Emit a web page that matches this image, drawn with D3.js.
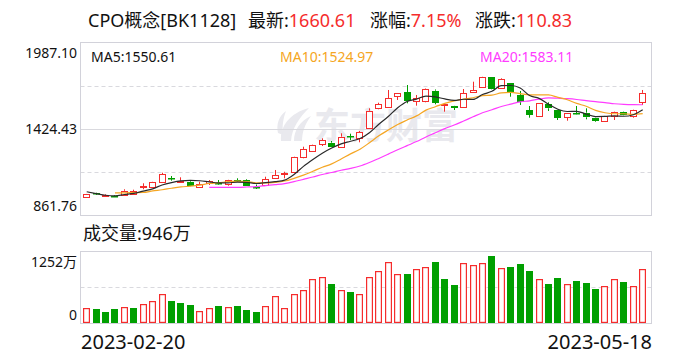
<!DOCTYPE html>
<html><head><meta charset="utf-8">
<script src="https://cdn.jsdelivr.net/npm/d3@7"></script>
<style>
body{margin:0;background:#fff}
svg{display:block}
text{font-family:"Noto Sans","Noto Sans CJK SC",sans-serif}
</style>
</head><body><svg id="c" width="688" height="360"></svg>
<script>
const dates = ["2023-02-20","2023-02-21","2023-02-22","2023-02-23","2023-02-24","2023-02-27","2023-02-28",
"2023-03-01","2023-03-02","2023-03-03","2023-03-06","2023-03-07","2023-03-08","2023-03-09","2023-03-10",
"2023-03-13","2023-03-14","2023-03-15","2023-03-16","2023-03-17","2023-03-20","2023-03-21","2023-03-22",
"2023-03-23","2023-03-24","2023-03-27","2023-03-28","2023-03-29","2023-03-30","2023-03-31",
"2023-04-03","2023-04-04","2023-04-06","2023-04-07","2023-04-10","2023-04-11","2023-04-12","2023-04-13",
"2023-04-14","2023-04-17","2023-04-18","2023-04-19","2023-04-20","2023-04-21","2023-04-24","2023-04-25",
"2023-04-26","2023-04-27","2023-04-28","2023-05-04","2023-05-05","2023-05-08","2023-05-09","2023-05-10",
"2023-05-11","2023-05-12","2023-05-15","2023-05-16","2023-05-17","2023-05-18"];
const open  = [977.6,1003.7,990.6,987,992.6,999.2,1045,1043,1079.6,1103.8,1082.2,1079.6,1046.9,1069.2,1071.1,
1062.6,1088.8,1090.7,1048.2,1054.8,1101.9,1130,1141.1,1243.2,1282.5,1324.3,1334.8,1308.6,1376.7,1363.6,
1429,1563.8,1566.4,1642.3,1664.5,1609.6,1607.6,1675,1584.7,1574.9,1566.4,1664.5,1697.3,1762.7,1694.6,
1723.4,1646.9,1548.7,1511.4,1586,1548.7,1504.9,1527.2,1531.1,1498.4,1478.7,1511.4,1537.6,1509.5,1599.1];
const high  = [1001,1007.7,999.2,992,1030,1027.3,1069.2,1079,1138.5,1116.9,1108.4,1090.7,1079.6,1090.7,1090.7,
1092,1101.9,1095.3,1061.3,1112.3,1156.2,1145,1243,1308.6,1322,1363.6,1345.9,1396.3,1393.7,1411.3,
1559.9,1596.5,1679.6,1660,1712.3,1646.9,1689.4,1682.9,1592.6,1576,1686.1,1733.9,1768,1764,1756.1,
1725,1673.1,1574.9,1594,1599.1,1550,1529,1574.9,1559.9,1500,1510,1540,1540,1552,1679.6];
const low   = [976,992.6,981.5,980,992,998,1029.9,1041,1078,1086.2,1080,1050,1045,1058,1060,
1053.5,1080,1052,1031.9,1053,1100,1101.9,1139,1232.7,1276,1313.2,1306,1306,1352.5,1337.4,
1427,1553.3,1564,1614.2,1592.6,1576.9,1599.1,1586,1537.6,1548.7,1564,1662,1695,1684,1692,
1635.7,1581.5,1498.4,1509,1542.2,1483.3,1478.7,1520.6,1487.9,1472.2,1477,1483.3,1514,1498.4,1581.5];
const close = [1000.5,998,994.6,983,1020,1017,1049.5,1077.7,1128,1099.3,1086.2,1051.5,1064.6,1084.2,1067.9,
1090.7,1084.2,1053.5,1041.7,1095.3,1123.5,1134.6,1241.2,1293.6,1319.7,1352.5,1308.6,1374,1372.1,1402.8,
1544.2,1586,1625.3,1658,1607.6,1625.3,1686.1,1596.5,1590,1563.8,1658,1679.6,1766.6,1686.1,1749.6,
1661.9,1603,1516,1592.6,1559.9,1498.4,1527.2,1522.6,1501,1478.7,1507.5,1537.6,1516,1549.78,1660.61];
const volume = [255,238,191,238,273,255,325,377,499,383,348,313,214,255,296,273,296,226,191,296,
470,255,499,568,765,800,678,568,539,499,800,904,1061,852,852,939,974,1061,765,661,
1038,1009,1038,1170,951,974,1026,904,765,678,783,678,730,696,591,643,765,713,643,946];
const ma5 = [1014,1002,991,987,996,1003,1018,1033,1058,1074,1085,1088,1086,1078,1072,1072,1077,1075,1068,1073,
1080,1090,1127,1180,1225,1266,1300,1327,1344,1362,1400,1456,1506,1563,1604,1620,1640,1635,1621,1612,
1619,1618,1650,1671,1708,1709,1693,1643,1625,1587,1554,1539,1540,1522,1506,1507,1510,1508,1518,1550.61];
const ma10 = [null,null,null,1007,1007,1008,1009,1019,1027,1036.8,1045.3,1050.7,1057.7,1067.8,1072.6,1080,1083.4,1081,1072.4,1072,
1075.7,1084,1101.7,1122.6,1147.8,1174,1196.4,1228.5,1261.5,1292.3,1334.3,1379.5,1417.9,1454.3,1483.1,1510.4,1548.1,1570.4,1592.2,1608.3,
1619.7,1629,1643.2,1646,1660.2,1663.8,1655.5,1647.5,1647.7,1647.3,1631.4,1616.1,1591.7,1573.2,1546.1,1530.7,1524.2,1524.2,1519.9,1524.97];
const ma20 = [null,null,null,null,null,null,null,null,null,null,null,null,null,1042,1043,1043,1043,1045,1048,1054.4,
1060.5,1067.4,1079.7,1095.2,1110.2,1127,1139.9,1154.7,1166.9,1182.1,1205,1231.7,1259.8,1288.5,1315.5,1342.2,1372.3,1399.4,1426.8,1450.3,
1477,1504.2,1530.5,1550.1,1571.6,1587.1,1601.8,1608.9,1620,1627.8,1625.5,1622.6,1617.4,1609.6,1603.1,1597.3,1589.8,1585.8,1583.8,1583.11];
const priceTicks = [1987.10, 1424.43, 861.76];
const volumeTicks = [1252, 0];
const dateTicks = ["2023-02-20", "2023-05-18"];

const RED = "#f52c2c", GREEN = "#009f00", GRID = "#d9d9de", BORDER = "#d2d2da";
const svg = d3.select("#c");
svg.append("rect").attr("width",688).attr("height",360).attr("fill","#fff");

const L = 80.5, R = 651.5, PT = 42.5, PB = 215.5, VT = 251.5, VB = 323.5;
const x = d3.scaleBand().domain(dates).range([82, 647.4]);
const y = d3.scaleLinear().domain([861.76, 1987.10]).range([215, 43]);
const yv = d3.scaleLinear().domain([0, 1252]).range([323, 251]);
const cx = i => x(dates[i]) + x.bandwidth()/2;
const BW = 7;

// header
const hdr = svg.append("g").attr("font-size", 18);
const hgroups = [["CPO概念[BK1128]","",88],["最新:","1660.61",248],["涨幅:","7.15%",370],["涨跌:","110.83",475]];
hgroups.forEach(([lab,val,px]) => {
  const t = hdr.append("text").attr("x",px).attr("y",27);
  t.append("tspan").attr("fill","#111").text(lab);
  if (val) t.append("tspan").attr("fill",RED).text(val);
});

// watermark
const wm = svg.append("g").attr("fill","#e9e9ee");
wm.append("path").attr("d","M281,141 C280,126 290,113 309,108 C299,118 292,128 291,141 Z");
wm.append("path").attr("d","M294,141 C294,130 300,121 311,116 C305,124 302,132 302,141 Z");
wm.append("path").attr("d","M278,133 C276,124 279,116 286,111 C283,119 282,126 283,135 Z");
wm.append("text").attr("x",386).attr("y",139).attr("text-anchor","middle")
  .attr("font-size",36).attr("font-weight","bold").attr("font-family","Noto Sans CJK SC").text("东方财富");

// price panel grid
const grid = svg.append("g");
grid.append("line").attr("x1",L).attr("x2",R).attr("y1",Math.round(y(1424.43))+0.5).attr("y2",Math.round(y(1424.43))+0.5)
  .attr("stroke",GRID);
[ (1987.10+1424.43)/2, (1424.43+861.76)/2 ].forEach(v => {
  grid.append("line").attr("x1",L).attr("x2",R).attr("y1",Math.round(y(v))+0.5).attr("y2",Math.round(y(v))+0.5)
    .attr("stroke",GRID).attr("stroke-dasharray","4,3");
});
svg.append("rect").attr("x",L).attr("y",PT).attr("width",R-L).attr("height",PB-PT)
  .attr("fill","none").attr("stroke",BORDER);

// y labels
const yl = svg.append("g").attr("font-size",14).attr("fill","#111").attr("text-anchor","end");
yl.append("text").attr("x",77).attr("y",57.5).text(priceTicks[0].toFixed(2));
yl.append("text").attr("x",77).attr("y",134.3).text(priceTicks[1].toFixed(2));
yl.append("text").attr("x",77).attr("y",210.7).text(priceTicks[2].toFixed(2));

// candles
const cg = svg.append("g");
dates.forEach((d,i) => {
  const up = close[i] >= open[i];
  const c = up ? RED : GREEN;
  const left = Math.round(cx(i) - BW/2);
  const wx = left + 3.5;
  const top = y(Math.max(open[i],close[i])), bot = y(Math.min(open[i],close[i]));
  cg.append("line").attr("x1",wx).attr("x2",wx).attr("y1",y(high[i])).attr("y2",top).attr("stroke",c);
  cg.append("line").attr("x1",wx).attr("x2",wx).attr("y1",bot).attr("y2",y(low[i])).attr("stroke",c);
  if (up) {
    cg.append("rect").attr("x",left+0.5).attr("y",Math.round(top)+0.5).attr("width",BW-1)
      .attr("height",Math.max(1,Math.round(bot)-Math.round(top))).attr("fill","#fff").attr("stroke",c);
  } else {
    cg.append("rect").attr("x",left).attr("y",Math.round(top)).attr("width",BW)
      .attr("height",Math.max(1.5,Math.round(bot)-Math.round(top))).attr("fill",c);
  }
});

// MA lines
const maLine = arr => d3.line().defined(d => d != null).x((d,i) => cx(i)).y(d => y(d)).curve(d3.curveMonotoneX)(arr);
svg.append("path").attr("d",maLine(ma20)).attr("fill","none").attr("stroke","#ff3cff").attr("stroke-width",1.2);
svg.append("path").attr("d",maLine(ma10)).attr("fill","none").attr("stroke","#f5a623").attr("stroke-width",1.2);
svg.append("path").attr("d",maLine(ma5)).attr("fill","none").attr("stroke","#2a2a2a").attr("stroke-width",1.2);

// MA legends
const lg = svg.append("g").attr("font-size",14);
lg.append("text").attr("x",91).attr("y",61.5).attr("fill","#111").text("MA5:" + ma5[59].toFixed(2));
lg.append("text").attr("x",280).attr("y",61.5).attr("fill","#f5a623").text("MA10:" + ma10[59].toFixed(2));
lg.append("text").attr("x",480).attr("y",61.5).attr("fill","#ff3cff").text("MA20:" + ma20[59].toFixed(2));

// volume title
svg.append("text").attr("x",83).attr("y",240).attr("font-size",18).attr("fill","#111")
  .text("成交量:" + volume[59] + "万");

// volume panel
svg.append("line").attr("x1",L).attr("x2",R).attr("y1",Math.round(yv(626))+0.5).attr("y2",Math.round(yv(626))+0.5)
  .attr("stroke",GRID).attr("stroke-dasharray","4,3");
svg.append("rect").attr("x",L).attr("y",VT).attr("width",R-L).attr("height",VB-VT)
  .attr("fill","none").attr("stroke",BORDER);
const vl = svg.append("g").attr("font-size",14).attr("fill","#111").attr("text-anchor","end");
vl.append("text").attr("x",77).attr("y",266.5).text(volumeTicks[0] + "万");
vl.append("text").attr("x",77).attr("y",319.5).text(volumeTicks[1]);

const vg = svg.append("g");
dates.forEach((d,i) => {
  const up = i === 0 ? close[i] >= open[i] : close[i] >= close[i-1];
  const left = Math.round(cx(i) - BW/2);
  const top = Math.round(yv(volume[i]));
  if (up) {
    vg.append("rect").attr("x",left+0.6).attr("y",top+0.6).attr("width",BW-1.2).attr("height",323-top-1.2)
      .attr("fill","#fff").attr("stroke",RED).attr("stroke-width",1.2);
  } else {
    vg.append("rect").attr("x",left).attr("y",top).attr("width",BW).attr("height",323-top).attr("fill",GREEN);
  }
});

// date labels
const dl = svg.append("g").attr("font-size",20).attr("fill","#111");
dl.append("text").attr("x",81).attr("y",348.5).text(dateTicks[0]);
dl.append("text").attr("x",652).attr("y",348.5).attr("text-anchor","end").text(dateTicks[1]);
</script>
</body></html>
